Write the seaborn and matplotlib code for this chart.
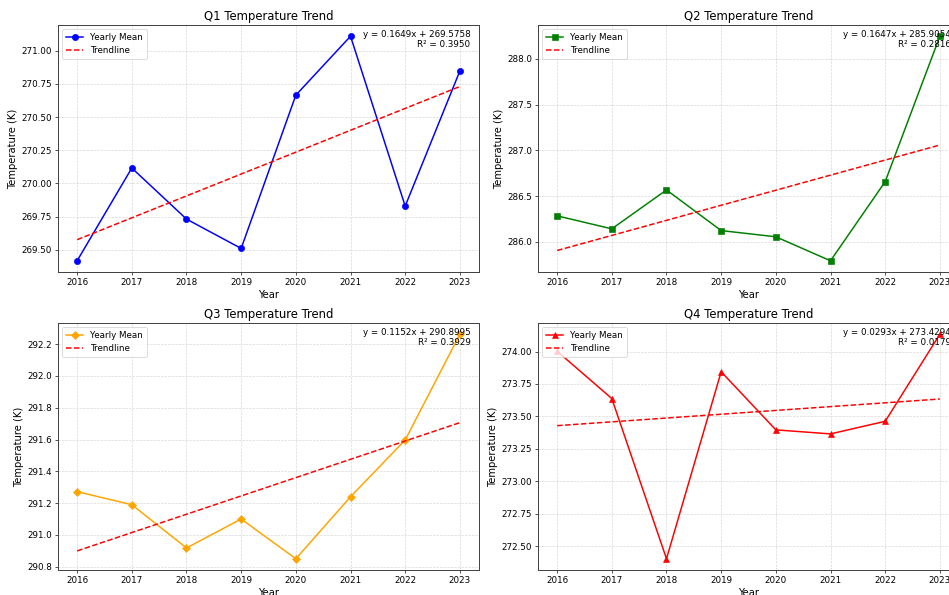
import numpy as np
import pandas as pd
import matplotlib
matplotlib.use("Agg")
import matplotlib.pyplot as plt
import seaborn as sns

# ---------------------------------------------------------
# DATA
# ---------------------------------------------------------
years = [2016, 2017, 2018, 2019, 2020, 2021, 2022, 2023]
quarters = ["Q1", "Q2", "Q3", "Q4"]

q1_temp = [269.417, 270.116, 269.731, 269.510, 270.665, 271.109, 269.829, 270.847]
q2_temp = [286.284, 286.142, 286.567, 286.123, 286.055, 285.793, 286.658, 288.247]
q3_temp = [291.272, 291.190, 290.918, 291.100, 290.850, 291.240, 291.597, 292.262]
q4_temp = [274.002, 273.638, 272.405, 273.844, 273.397, 273.366, 273.463, 274.133]

# trendline coefficients as printed on the chart (x = year index 0..7)
slopes = [0.1649, 0.1647, 0.1152, 0.0293]
intercepts = [269.5758, 285.9054, 290.8995, 273.4294]
r_squared = [0.3950, 0.2816, 0.3929, 0.0179]

colors = ["blue", "green", "orange", "red"]
markers = ["o", "s", "D", "^"]

# ---------------------------------------------------------
# FIGURE
# ---------------------------------------------------------
DPI = 60
W, H = 949, 595
fig = plt.figure(figsize=(W / DPI, H / DPI), dpi=DPI)

# axes boxes in pixels: (left, top, right, bottom)
boxes = [(58, 25, 479, 272), (538, 25, 959, 272),
         (58, 323, 479, 570), (538, 323, 959, 570)]

all_temps = [q1_temp, q2_temp, q3_temp, q4_temp]

for i, q in enumerate(quarters):
    l, t, r, b = boxes[i]
    ax = fig.add_axes([l / W, 1 - b / H, (r - l) / W, (b - t) / H])

    df = pd.DataFrame({"Year": years, "Temp": all_temps[i]})
    idx = np.arange(len(years))
    df["Trend"] = intercepts[i] + slopes[i] * idx

    sns.lineplot(data=df, x="Year", y="Temp", ax=ax, color=colors[i],
                 marker=markers[i], markersize=7.5, markeredgecolor=colors[i],
                 linewidth=1.8, label="Yearly Mean")
    sns.lineplot(data=df, x="Year", y="Trend", ax=ax, color="red",
                 linestyle="--", linewidth=1.8, label="Trendline")

    ax.text(0.98, 0.98,
            f"y = {slopes[i]:.4f}x + {intercepts[i]:.4f}\nR² = {r_squared[i]:.4f}",
            transform=ax.transAxes, ha="right", va="top", fontsize=10.5)

    ax.set_title(f"{q} Temperature Trend", fontsize=14)
    ax.set_xlabel("Year", fontsize=12)
    ax.set_ylabel("Temperature (K)", fontsize=12)
    ax.set_xticks(years)
    ax.tick_params(labelsize=10.5)
    ax.ticklabel_format(axis="y", useOffset=False)
    ax.grid(True, linestyle="--", alpha=0.5)
    for s in ax.spines.values():
        s.set_linewidth(1.2)
        s.set_color("#444444")
    ax.legend(loc="upper left", fontsize=10.5)

plt.savefig("out.png", dpi=DPI)
plt.close()
